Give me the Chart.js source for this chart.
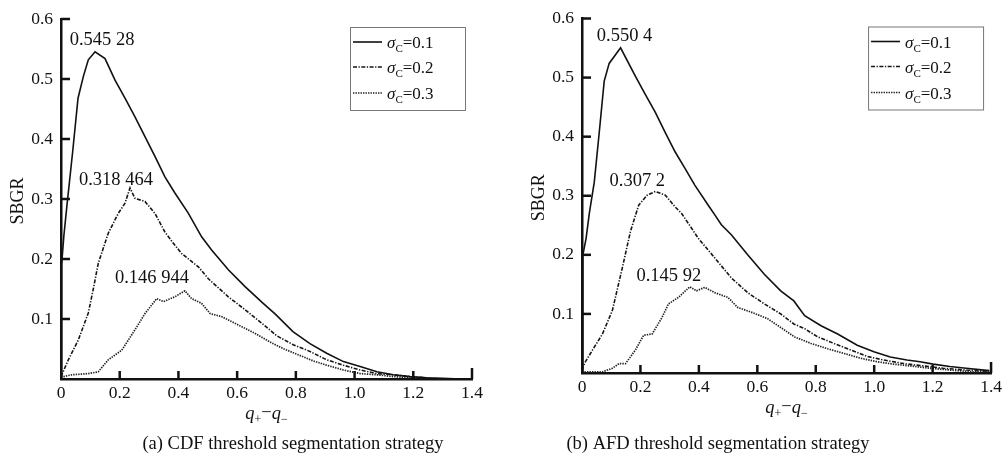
<!DOCTYPE html>
<html>
<head>
<meta charset="utf-8">
<script src="https://cdn.jsdelivr.net/npm/chart.js@4.4.1/dist/chart.umd.min.js"></script>
<style>
  html, body { margin: 0; padding: 0; background: #fff; }
  #wrap { position: relative; width: 1006px; height: 457px; overflow: hidden; }
  #cdf { position: absolute; left: 0; top: 0; }
  #afd { position: absolute; left: 500px; top: 0; }
</style>
</head>
<body>
<div id="wrap">
  <canvas id="cdf" width="500" height="457"></canvas>
  <canvas id="afd" width="506" height="457"></canvas>
</div>
<script>
// ---- data ----
const xTickValues = [0, 0.2, 0.4, 0.6, 0.8, 1.0, 1.2, 1.4];
const xTickLabels = ["0", "0.2", "0.4", "0.6", "0.8", "1.0", "1.2", "1.4"];
const yTickValues = [0.1, 0.2, 0.3, 0.4, 0.5, 0.6];
const yTickLabels = ["0.1", "0.2", "0.3", "0.4", "0.5", "0.6"];
const sigmaValues = ["0.1", "0.2", "0.3"];

// (a) CDF
const cdfX1 = [0, 0.002, 0.01, 0.02, 0.04, 0.058, 0.076, 0.093, 0.116, 0.15, 0.184, 0.218, 0.252, 0.286, 0.32, 0.354, 0.388, 0.433, 0.479, 0.513, 0.57, 0.627, 0.684, 0.73, 0.79, 0.848, 0.905, 0.962, 1.019, 1.076, 1.132, 1.189, 1.246, 1.3, 1.36];
const cdfY1 = [0, 0.19, 0.24, 0.288, 0.38, 0.468, 0.504, 0.532, 0.54528, 0.534, 0.498, 0.468, 0.437, 0.404, 0.371, 0.337, 0.31, 0.277, 0.237, 0.215, 0.182, 0.154, 0.128, 0.108, 0.079, 0.059, 0.043, 0.029, 0.021, 0.012, 0.007, 0.004, 0.002, 0.001, 0];
const cdfX2 = [0, 0.025, 0.059, 0.093, 0.11, 0.127, 0.161, 0.195, 0.218, 0.235, 0.252, 0.286, 0.32, 0.354, 0.38, 0.411, 0.468, 0.502, 0.57, 0.615, 0.684, 0.735, 0.791, 0.848, 0.905, 0.962, 1.019, 1.076, 1.132, 1.189, 1.24, 1.28];
const cdfY2 = [0.004, 0.032, 0.065, 0.11, 0.15, 0.193, 0.243, 0.276, 0.293, 0.318464, 0.301, 0.296, 0.276, 0.245, 0.228, 0.209, 0.187, 0.167, 0.137, 0.12, 0.093, 0.072, 0.057, 0.046, 0.032, 0.023, 0.015, 0.009, 0.007, 0.004, 0.002, 0];
const cdfX3 = [0, 0.036, 0.093, 0.127, 0.161, 0.207, 0.252, 0.286, 0.326, 0.349, 0.388, 0.422, 0.445, 0.479, 0.508, 0.547, 0.604, 0.661, 0.718, 0.76, 0.81, 0.86, 0.905, 0.962, 1.019, 1.076, 1.132, 1.189, 1.25];
const cdfY3 = [0.003, 0.007, 0.009, 0.012, 0.032, 0.048, 0.082, 0.109, 0.134, 0.129, 0.137, 0.146944, 0.134, 0.126, 0.109, 0.104, 0.09, 0.076, 0.06, 0.05, 0.04, 0.03, 0.023, 0.015, 0.009, 0.007, 0.004, 0.002, 0];
const cdfPeaks = ["0.545 28", "0.318 464", "0.146 944"];

// (b) AFD
const afdX1 = [0, 0.003, 0.014, 0.025, 0.042, 0.059, 0.076, 0.093, 0.132, 0.183, 0.217, 0.251, 0.285, 0.319, 0.353, 0.386, 0.432, 0.454, 0.477, 0.511, 0.567, 0.624, 0.68, 0.725, 0.762, 0.818, 0.875, 0.942, 0.999, 1.055, 1.112, 1.157, 1.202, 1.259, 1.315, 1.394];
const afdY1 = [0, 0.2, 0.228, 0.27, 0.323, 0.407, 0.494, 0.524, 0.5504, 0.502, 0.471, 0.441, 0.407, 0.374, 0.346, 0.318, 0.284, 0.268, 0.251, 0.234, 0.2, 0.167, 0.139, 0.122, 0.097, 0.08, 0.066, 0.047, 0.036, 0.027, 0.022, 0.019, 0.015, 0.011, 0.008, 0.004];
const afdX2 = [0, 0.008, 0.036, 0.07, 0.104, 0.138, 0.166, 0.194, 0.223, 0.251, 0.285, 0.319, 0.341, 0.375, 0.398, 0.454, 0.511, 0.567, 0.624, 0.68, 0.725, 0.762, 0.807, 0.863, 0.92, 0.976, 1.033, 1.101, 1.168, 1.236, 1.315, 1.394];
const afdY2 = [0.005, 0.016, 0.039, 0.066, 0.106, 0.178, 0.24, 0.284, 0.301, 0.3072, 0.301, 0.281, 0.27, 0.245, 0.228, 0.195, 0.161, 0.136, 0.117, 0.1, 0.083, 0.075, 0.061, 0.05, 0.039, 0.028, 0.022, 0.016, 0.012, 0.008, 0.005, 0.003];
const afdX3 = [0, 0.07, 0.104, 0.127, 0.149, 0.183, 0.211, 0.24, 0.274, 0.296, 0.33, 0.369, 0.392, 0.42, 0.454, 0.499, 0.533, 0.579, 0.635, 0.68, 0.728, 0.784, 0.841, 0.897, 0.954, 1.01, 1.067, 1.123, 1.191, 1.259, 1.34, 1.394];
const afdY3 = [0.002, 0.002, 0.008, 0.016, 0.016, 0.039, 0.064, 0.066, 0.094, 0.117, 0.128, 0.14592, 0.139, 0.145, 0.136, 0.128, 0.111, 0.103, 0.092, 0.077, 0.061, 0.05, 0.041, 0.033, 0.025, 0.019, 0.015, 0.012, 0.008, 0.005, 0.002, 0.002];
const afdPeaks = ["0.550 4", "0.307 2", "0.145 92"];

// ---- styling ----
const FONT = "'Liberation Serif', 'Times New Roman', serif";
const INK = "#111";
const lineStyles = [
  { color: "#111", width: 1.6, dash: [] },
  { color: "#151515", width: 1.6, dash: [4, 1.5, 1.3, 1.5] },
  { color: "#222", width: 1.7, dash: [1.4, 1.1] },
];

function pts(xs, ys) {
  return xs.map((v, i) => ({ x: v, y: ys[i] }));
}

const decor = {
  id: "decor",
  afterDraw(chart, args, o) {
    const { ctx, chartArea: a, scales: { x, y } } = chart;
    ctx.save();
    // inward tick marks
    ctx.strokeStyle = INK;
    ctx.lineWidth = 2.5;
    xTickValues.forEach((v) => {
      if (v === 0) return;
      const px = x.getPixelForValue(v);
      ctx.beginPath();
      ctx.moveTo(px, a.bottom);
      ctx.lineTo(px, a.bottom - (v === 1.4 ? 11 : 8));
      ctx.stroke();
    });
    yTickValues.forEach((v) => {
      const py = y.getPixelForValue(v);
      ctx.beginPath();
      ctx.moveTo(a.left, py);
      ctx.lineTo(a.left + 9, py);
      ctx.stroke();
    });

    ctx.fillStyle = INK;
    // y title
    ctx.save();
    ctx.translate(a.left - 42.5, (a.top + a.bottom) / 2 + 2);
    ctx.rotate(-Math.PI / 2);
    ctx.font = "18px " + FONT;
    ctx.textAlign = "center";
    ctx.textBaseline = "middle";
    ctx.fillText("SBGR", 0, 0);
    ctx.restore();

    // x title q+ - q-
    const big = "italic 18.5px " + FONT, small = "12px " + FONT, reg = "18.5px " + FONT;
    const parts = [
      [big, "q", 0], [small, "+", 4], [reg, "\u2212", -1], [big, "q", 0], [small, "\u2212", 4],
    ];
    let w = 0;
    parts.forEach((p) => { ctx.font = p[0]; w += ctx.measureText(p[1]).width; });
    let tx = (a.left + a.right) / 2 - w / 2;
    const ty = a.bottom + 40;
    ctx.textAlign = "left";
    ctx.textBaseline = "alphabetic";
    parts.forEach((p) => {
      ctx.font = p[0];
      ctx.fillText(p[1], tx, ty + p[2]);
      tx += ctx.measureText(p[1]).width;
    });

    // caption
    ctx.font = "18.5px " + FONT;
    ctx.textAlign = "center";
    ctx.textBaseline = "middle";
    ctx.fillText(o.caption, o.captionX, 444);

    // peak labels
    chart.data.datasets.forEach((ds, i) => {
      let best = ds.data[0];
      ds.data.forEach((p) => { if (p.y > best.y) best = p; });
      const px = x.getPixelForValue(best.x), py = y.getPixelForValue(best.y);
      const off = o.peakOffsets[i];
      ctx.font = "18.5px " + FONT;
      ctx.fillText(o.peaks[i], px + off[0], py + off[1]);
    });

    // legend
    const bx = a.right - o.legend.right - 115, by = a.top + o.legend.top;
    ctx.fillStyle = "#fff";
    ctx.fillRect(bx, by, 115, 83);
    ctx.strokeStyle = "#777";
    ctx.lineWidth = 1;
    ctx.setLineDash([]);
    ctx.strokeRect(bx + 0.5, by + 0.5, 115, 83);
    const rows = [15, 40, 66];
    sigmaValues.forEach((s, i) => {
      const st = lineStyles[i];
      const ry = by + rows[i];
      ctx.strokeStyle = st.color;
      ctx.lineWidth = st.width;
      ctx.setLineDash(st.dash);
      ctx.beginPath();
      ctx.moveTo(bx + 3, ry);
      ctx.lineTo(bx + 32, ry);
      ctx.stroke();
      ctx.setLineDash([]);
      ctx.fillStyle = INK;
      ctx.textAlign = "left";
      ctx.textBaseline = "alphabetic";
      let lx = bx + 37;
      const base = ry + 6;
      ctx.font = "italic 17px " + FONT;
      ctx.fillText("\u03c3", lx, base);
      lx += ctx.measureText("\u03c3").width;
      ctx.font = "11px " + FONT;
      ctx.fillText("C", lx, base + 4);
      lx += ctx.measureText("C").width;
      ctx.font = "17px " + FONT;
      ctx.fillText("=" + s, lx, base);
    });
    ctx.restore();
  },
};

function makeChart(id, xs, ys, peaks, L) {
  new Chart(document.getElementById(id), {
    type: "line",
    data: {
      datasets: xs.map((xv, i) => ({
        label: "\u03c3C=" + sigmaValues[i],
        data: pts(xv, ys[i]),
        borderColor: lineStyles[i].color,
        borderWidth: lineStyles[i].width,
        borderDash: lineStyles[i].dash,
        pointRadius: 0,
        fill: false,
        tension: 0,
      })),
    },
    options: {
      responsive: false,
      animation: false,
      layout: { padding: { top: L.padTop, right: L.padRight, left: 0, bottom: 0 } },
      plugins: {
        legend: { display: false },
        tooltip: { enabled: false },
        decor: {
          caption: L.caption,
          captionX: L.captionX,
          peaks: peaks,
          peakOffsets: L.peakOffsets,
          legend: { right: L.legendRight, top: 8 },
        },
      },
      scales: {
        x: {
          type: "linear",
          min: 0,
          max: 1.4,
          afterFit: (s) => { s.height = L.axisH; },
          afterBuildTicks: (s) => { s.ticks = xTickValues.map((v) => ({ value: v })); },
          ticks: {
            callback: (v, i) => xTickLabels[i],
            font: { family: FONT, size: 17.5 },
            color: INK,
            padding: 4,
            maxRotation: 0,
            autoSkip: false,
          },
          grid: { display: false, drawTicks: false },
          border: { display: true, color: INK, width: 2.5 },
        },
        y: {
          type: "linear",
          min: 0,
          max: 0.6,
          afterFit: (s) => { s.width = L.axisW; },
          afterBuildTicks: (s) => { s.ticks = yTickValues.map((v) => ({ value: v })); },
          ticks: {
            callback: (v, i) => yTickLabels[i],
            font: { family: FONT, size: 17.5 },
            color: INK,
            padding: 8,
            autoSkip: false,
          },
          grid: { display: false, drawTicks: false },
          border: { display: true, color: INK, width: 2.5 },
        },
      },
    },
    plugins: [decor],
  });
}

makeChart("cdf", [cdfX1, cdfX2, cdfX3], [cdfY1, cdfY2, cdfY3], cdfPeaks, {
  padTop: 19, padRight: 28, axisW: 61, axisH: 78,
  caption: "(a) CDF threshold segmentation strategy", captionX: 293,
  peakOffsets: [[7, -12], [-14, -8], [-33, -13]],
  legendRight: 7,
});

makeChart("afd", [afdX1, afdX2, afdX3], [afdY1, afdY2, afdY3], afdPeaks, {
  padTop: 15, padRight: 11, axisW: 82, axisH: 84,
  caption: "(b) AFD threshold segmentation strategy", captionX: 218,
  peakOffsets: [[4, -12], [-18, -10], [-21, -11]],
  legendRight: 8,
});
</script>
</body>
</html>
